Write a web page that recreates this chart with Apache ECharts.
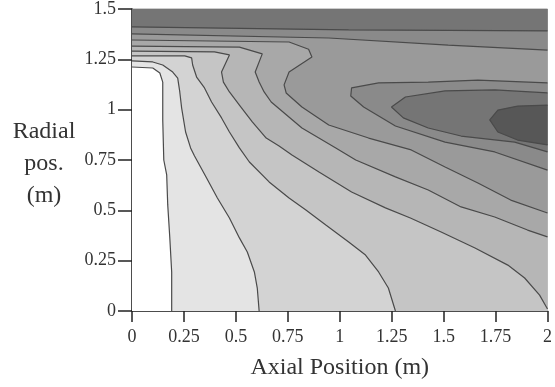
<!DOCTYPE html>
<html><head><meta charset="utf-8">
<script src="https://cdn.jsdelivr.net/npm/echarts@6/dist/echarts.min.js"></script>
<style>html,body{margin:0;padding:0;background:#fff}#c{width:555px;height:387px}</style>
</head><body><div id="c"></div>
<script>
// Axis ranges and ticks
const xRange = [0, 2];
const yRange = [0, 1.5];
const xTickStep = 0.25;
const yTickStep = 0.25;

// Contour lines ([axial m, radial m])
const C0 = [[0,1.212],[0.100,1.207],[0.134,1.182],[0.148,1.137],[0.148,0.949],[0.153,0.750],[0.167,0.676],[0.172,0.527],[0.182,0.363],[0.191,0.194],[0.191,0]];
const C1 = [[0,1.242],[0.100,1.237],[0.148,1.222],[0.196,1.187],[0.220,1.157],[0.230,1.088],[0.239,1.008],[0.258,0.889],[0.282,0.810],[0.301,0.770],[0.359,0.661],[0.411,0.561],[0.469,0.462],[0.517,0.363],[0.555,0.293],[0.589,0.194],[0.603,0.114],[0.612,0]];
const C2 = [[0,1.267],[0.254,1.267],[0.287,1.257],[0.292,1.222],[0.311,1.162],[0.349,1.108],[0.383,1.038],[0.431,0.959],[0.469,0.889],[0.517,0.810],[0.565,0.740],[0.660,0.641],[0.756,0.561],[0.837,0.502],[0.933,0.427],[1.043,0.343],[1.124,0.278],[1.187,0.194],[1.234,0.114],[1.268,0]];
const C3 = [[0,1.291],[0.397,1.287],[0.469,1.272],[0.431,1.187],[0.440,1.137],[0.469,1.088],[0.517,1.023],[0.579,0.939],[0.646,0.859],[0.708,0.820],[0.770,0.775],[0.900,0.690],[1.057,0.591],[1.220,0.512],[1.340,0.462],[1.488,0.392],[1.651,0.313],[1.809,0.228],[1.890,0.164],[1.962,0.079],[2,0.010]];
const C4 = [[0,1.316],[0.517,1.311],[0.627,1.277],[0.593,1.187],[0.612,1.137],[0.636,1.088],[0.670,1.038],[0.818,0.909],[0.981,0.810],[1.077,0.750],[1.268,0.666],[1.426,0.601],[1.584,0.517],[1.746,0.467],[1.904,0.402],[2,0.368]];
const C5 = [[0,1.346],[0.756,1.336],[0.850,1.300],[0.866,1.262],[0.756,1.187],[0.732,1.123],[0.742,1.083],[0.818,1.013],[0.947,0.924],[1.139,0.859],[1.344,0.800],[1.507,0.715],[1.665,0.636],[1.823,0.551],[2,0.487]];
const C6top = [[0,1.376],[0.947,1.356],[1.522,1.321],[2,1.296]];
const C6loop = [[2,1.133],[1.665,1.147],[1.426,1.137],[1.187,1.133],[1.057,1.108],[1.053,1.068],[1.115,1.013],[1.268,0.919],[1.507,0.839],[1.746,0.790],[2,0.700]];
const C7top = [[0,1.411],[1.043,1.396],[2,1.391]];
const C7loop = [[2,1.083],[1.746,1.098],[1.507,1.093],[1.316,1.063],[1.249,1.013],[1.306,0.959],[1.426,0.909],[1.584,0.869],[1.842,0.839],[2,0.790]];
const C8loop = [[2,1.023],[1.856,1.018],[1.761,0.998],[1.722,0.949],[1.761,0.889],[1.856,0.849],[2,0.825]];

// Band shades, from lowest to highest level
const bandColors = ['#e4e4e4','#d3d3d3','#c5c5c5','#b6b6b6','#a8a8a8','#9a9a9a','#8a8a8a','#757575','#575757'];

const X0 = xRange[0], X1 = xRange[1], Y0 = yRange[0], Y1 = yRange[1];
const upper = [[X1, Y1], [X0, Y1]];
const regions = [
  { pts: [[X0,Y0],[X1,Y0],[X1,Y1],[X0,Y1]], color: bandColors[0] },
  { pts: C1.concat([[X1,Y0]], upper), color: bandColors[1] },
  { pts: C2.concat([[X1,Y0]], upper), color: bandColors[2] },
  { pts: C3.concat([[X1,Y0]], upper), color: bandColors[3] },
  { pts: C4.concat(upper), color: bandColors[4] },
  { pts: C5.concat(upper), color: bandColors[5] },
  { pts: C6top.concat(upper), color: bandColors[6] },
  { pts: C6loop.slice(), color: bandColors[6] },
  { pts: C7top.concat(upper), color: bandColors[7] },
  { pts: C7loop.slice(), color: bandColors[7] },
  { pts: C8loop.slice(), color: bandColors[8] },
  { pts: C0.concat([[X0,Y0]]), color: '#ffffff' }
];
const contourLines = [C0, C1, C2, C3, C4, C5, C6top, C6loop, C7top, C7loop, C8loop];

const serif = '"Liberation Serif", "Times New Roman", serif';
const chart = echarts.init(document.getElementById('c'), null, { renderer: 'canvas' });
const series = [{
  type: 'custom',
  coordinateSystem: 'cartesian2d',
  clip: true,
  silent: true,
  z: 1,
  renderItem: function (params, api) {
    const r = regions[params.dataIndex];
    return {
      type: 'polygon',
      shape: { points: r.pts.map(function (p) { return api.coord(p); }) },
      style: { fill: r.color, stroke: null }
    };
  },
  data: regions.map(function () { return [0, 0]; })
}];
contourLines.forEach(function (c) {
  series.push({
    type: 'line', data: c, symbol: 'none', silent: true, z: 3, clip: true,
    lineStyle: { color: '#4a4a4a', width: 1.2 }
  });
});

chart.setOption({
  animation: false,
  backgroundColor: '#ffffff',
  grid: { left: 132, right: 5, top: 9, bottom: 76, show: true, borderColor: '#9a9a9a', borderWidth: 1, backgroundColor: 'transparent' },
  xAxis: {
    type: 'value', min: X0, max: X1, interval: xTickStep,
    axisLine: { show: true, onZero: false, lineStyle: { color: '#222', width: 1.5 } },
    axisTick: { show: true, length: 11, lineStyle: { color: '#222', width: 1.5 } },
    axisLabel: { fontFamily: serif, fontSize: 18, color: '#333', margin: 17 },
    splitLine: { show: false },
    name: 'Axial Position (m)', nameLocation: 'middle', nameGap: 45,
    nameTextStyle: { fontFamily: serif, fontSize: 24, color: '#333' }
  },
  yAxis: {
    type: 'value', min: Y0, max: Y1, interval: yTickStep,
    axisLine: { show: true, onZero: false, lineStyle: { color: '#222', width: 1.5 } },
    axisTick: { show: true, length: 14, lineStyle: { color: '#222', width: 1.5 } },
    axisLabel: { fontFamily: serif, fontSize: 18, color: '#333', margin: 16 },
    splitLine: { show: false }
  },
  graphic: [{
    type: 'text', x: 44, y: 116, silent: true,
    style: { text: 'Radial\npos.\n(m)', font: '24px ' + serif, fill: '#333', align: 'center', verticalAlign: 'top', lineHeight: 32 }
  }],
  series: series
});
</script></body></html>
